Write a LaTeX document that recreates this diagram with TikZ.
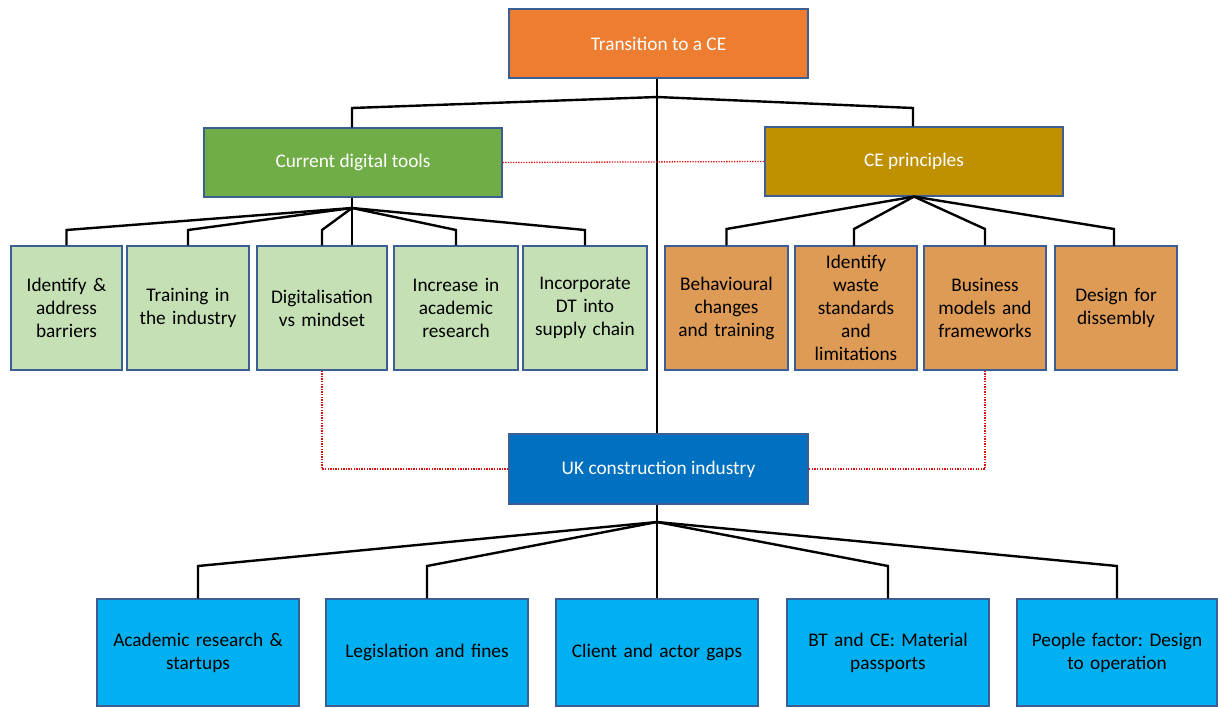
\documentclass[tikz,border=0pt]{standalone}
\usepackage{fontspec}
\setmainfont{Carlito}
\definecolor{cTop}{HTML}{ED7D31}
\definecolor{cGreen}{HTML}{70AD47}
\definecolor{cGold}{HTML}{BF9000}
\definecolor{cLGreen}{HTML}{C5E0B4}
\definecolor{cLOrange}{HTML}{DE9B55}
\definecolor{cUK}{HTML}{0070C0}
\definecolor{cSky}{HTML}{00B0F0}
\definecolor{cBorder}{HTML}{3B5E94}
\definecolor{cRed}{HTML}{E01010}
\tikzset{
  box/.style={draw=cBorder, line width=1.2pt, rectangle, align=center, inner sep=2pt,
    font=\fontsize{19.3}{23}\selectfont},
  wbox/.style={box, text=white},
  kbox/.style={box, text=black},
  conn/.style={draw=black, line width=2.4pt, line join=miter},
  reddot/.style={draw=cRed, line width=1.3pt, dash pattern=on 1.3pt off 1.3pt}
}
\begin{document}
\frenchspacing
\begin{tikzpicture}[x=1pt,y=-1pt]
\useasboundingbox (0,0) rectangle (1218,707);
% top
\node[wbox, fill=cTop, minimum width=299, minimum height=69] (top) at (658.5,43.5) {Transition to a CE};
\node[wbox, fill=cGreen, minimum width=298, minimum height=69] (cdt) at (353,162.5) {Current digital tools};
\node[wbox, fill=cGold, minimum width=298, minimum height=69] (cep) at (914,161.5) {CE principles};
\node[wbox, fill=cUK, minimum width=299, minimum height=70] (uk) at (658.5,469) {UK construction industry};
% green children
\node[kbox, fill=cLGreen, minimum width=111, minimum height=124, text width=107] (g1) at (66.5,308) {Identify \&\\address\\barriers};
\node[kbox, fill=cLGreen, minimum width=122, minimum height=124, text width=118] (g2) at (188,308) {Training in\\the industry};
\node[kbox, fill=cLGreen, minimum width=130, minimum height=124, text width=126] (g3) at (322,308) {Digitalisation\\vs mindset};
\node[kbox, fill=cLGreen, minimum width=124, minimum height=124, text width=120] (g4) at (456,308) {Increase in\\academic\\research};
\node[kbox, fill=cLGreen, minimum width=124, minimum height=124, text width=120] (g5) at (585,308) {Incorporate\\DT into\\supply chain};
% orange children
\node[kbox, fill=cLOrange, minimum width=123, minimum height=124, text width=119] (o1) at (726.5,308) {Behavioural\\changes\\and training};
\node[kbox, fill=cLOrange, minimum width=122, minimum height=124, text width=118] (o2) at (856,308) {Identify\\waste\\standards\\and\\limitations};
\node[kbox, fill=cLOrange, minimum width=122, minimum height=124, text width=118] (o3) at (985,308) {Business\\models and\\frameworks};
\node[kbox, fill=cLOrange, minimum width=122, minimum height=124, text width=118] (o4) at (1116,308) {Design for\\dissembly};
% blue children
\node[kbox, fill=cSky, minimum width=202, minimum height=107, text width=196] (b1) at (198,652.5) {Academic research \&\\startups};
\node[kbox, fill=cSky, minimum width=202, minimum height=107, text width=196] (b2) at (427,652.5) {Legislation and fines};
\node[kbox, fill=cSky, minimum width=202, minimum height=107, text width=196] (b3) at (657,652.5) {Client and actor gaps};
\node[kbox, fill=cSky, minimum width=202, minimum height=107, text width=196] (b4) at (888,652.5) {BT and CE: Material\\passports};
\node[kbox, fill=cSky, minimum width=200, minimum height=107, text width=194] (b5) at (1117,652.5) {People factor: Design\\to operation};
% junctions
\coordinate (j0) at (657,97);
\coordinate (jl) at (352,108);
\coordinate (jr) at (913,108);
\coordinate (jc) at (352,208);
\coordinate (ju) at (657,522);
% trunk
\draw[conn, line width=2pt] (top.south -| j0) -- (uk.north -| j0);
\draw[conn] (j0) -- (jl) -- (jl |- cdt.north);
\draw[conn] (j0) -- (jr) -- (jr |- cep.north);
% digital tools children
\draw[conn] (jc |- cdt.south) -- (jc);
\draw[conn] (jc) -- (66.5,230) -- (g1.north);
\draw[conn] (jc) -- (188,230) -- (g2.north);
\draw[conn] (jc) -- (322,230) -- (g3.north);
\draw[conn] (jc) -- (jc |- g3.north);
\draw[conn] (jc) -- (456,230) -- (g4.north);
\draw[conn] (jc) -- (585,230) -- (g5.north);
% CE principle children
\coordinate (jce) at (cep.south);
\draw[conn] (jce) -- (726.5,229) -- (o1.north);
\draw[conn] (jce) -- (854,229) -- (854,246);
\draw[conn] (jce) -- (985,229) -- (o3.north);
\draw[conn] (jce) -- (1114,229) -- (1114,246);
% UK children
\draw[conn, line width=2pt] (uk.south -| ju) -- (ju);
\draw[conn] (ju) -- (198,566) -- (b1.north);
\draw[conn] (ju) -- (427,566) -- (b2.north);
\draw[conn, line width=2pt] (ju) -- (b3.north);
\draw[conn] (ju) -- (888,566) -- (b4.north);
\draw[conn] (ju) -- (1117,566) -- (b5.north);
% red dotted links
\draw[reddot] (cdt.east) -- (cep.west);
\draw[reddot] (g3.south) -- (g3.south |- uk.west) -- (uk.west);
\draw[reddot] (o3.south) -- (o3.south |- uk.east) -- (uk.east);
\end{tikzpicture}
\end{document}
